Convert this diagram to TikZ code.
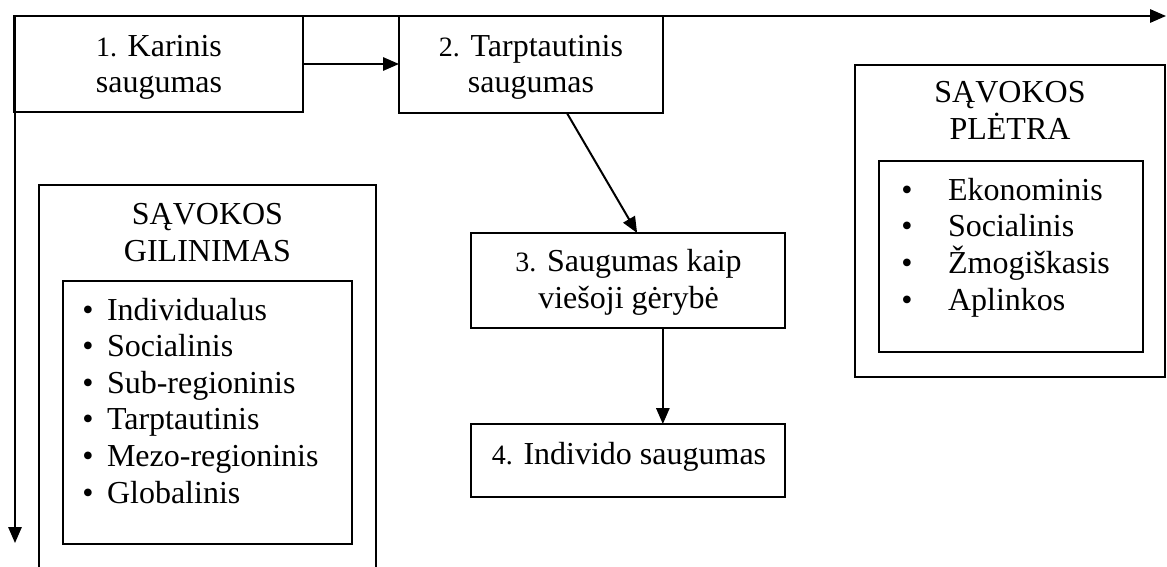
\documentclass[tikz,border=0pt]{standalone}
\usepackage{fontspec}
\setmainfont{Liberation Serif}
\usetikzlibrary{arrows.meta,calc}
\newcommand\numtxt[1]{{\fontsize{21}{27.5}\selectfont #1}}
\newcommand\bulL{\makebox[18.5pt][l]{•}}
\newcommand\bulR{\makebox[35pt][l]{•}}
\tikzset{
  txt/.style={font=\fontsize{24}{27.45}\selectfont, inner sep=0pt, outer sep=0pt},
  mainbox/.style={draw, line width=1.5pt, inner sep=0pt, outer sep=0pt},
  framebox/.style={draw, line width=1.1pt, inner sep=0pt, outer sep=0pt},
  arr/.style={line width=1.5pt, -{Triangle[length=12pt,width=10pt]}}
}
\begin{document}
\begin{tikzpicture}[x=0.75pt,y=-0.75pt]
\useasboundingbox (0,0) rectangle (1167,567);
\clip (0,0) rectangle (1167,567);
% main boxes
\node[mainbox, minimum width=216.75pt, minimum height=72pt] (b1) at (158.5,64) {};
\node[mainbox, minimum width=198pt, minimum height=72.75pt] (b2) at (531,64.5) {};
\node[mainbox, minimum width=235.5pt, minimum height=71.25pt] (b3) at (628,280.5) {};
\node[mainbox, minimum width=235.5pt, minimum height=54.75pt] (b4) at (628,460.5) {};
\node[txt, anchor=base, align=center] (t1) at (159,93) {\numtxt{1.} Karinis\\saugumas};
\node[txt, anchor=base, align=center] (t2) at (531,93) {\numtxt{2.} Tarptautinis\\saugumas};
\node[txt, anchor=base, align=center] (t3) at (628.5,308) {\numtxt{3.} Saugumas kaip\\viešoji gėrybė};
\node[txt, anchor=base, align=center] (t4) at (629,464) {\numtxt{4.} Individo saugumas};
% left frame
\node[framebox, minimum width=252.75pt, minimum height=311.25pt] (gil) at (207.5,392.5) {};
\node[framebox, minimum width=216.75pt, minimum height=197.25pt] (gilin) at (207.5,412.5) {};
\node[txt, anchor=base, align=center] (giltitle) at (207.5,261) {SĄVOKOS\\GILINIMAS};
\node[txt, anchor=base west, align=left] (gillist) at (82.4,503) {\bulL Individualus\\\bulL Socialinis\\\bulL Sub-regioninis\\\bulL Tarptautinis\\\bulL Mezo-regioninis\\\bulL Globalinis};
% right frame
\node[framebox, minimum width=232.5pt, minimum height=234pt] (ple) at (1010,221) {};
\node[framebox, minimum width=198pt, minimum height=143.25pt] (plein) at (1011,256.5) {};
\node[txt, anchor=base, align=center] (pletitle) at (1010,139) {SĄVOKOS\\PLĖTRA};
\node[txt, anchor=base west, align=left] (plelist) at (901.4,310) {\bulR Ekonominis\\\bulR Socialinis\\\bulR Žmogiškasis\\\bulR Aplinkos};
% connectors
\coordinate (topend) at (1166,16);
\coordinate (leftend) at (15,543);
\draw[arr] (b1.north west) -- (topend);
\draw[arr] ([xshift=0.75pt]b1.north west) -- ([xshift=0.75pt]b1.north west |- leftend);
\draw[arr] (b1.east) -- (b1.east -| b2.west);
\draw[arr] ($(b2.south west)!0.636!(b2.south east)$) -- ($(b3.north west)!0.529!(b3.north east)$);
\draw[arr] ($(b3.south west)!0.611!(b3.south east)$) coordinate (s3) -- (s3 |- b4.north);
\end{tikzpicture}
\end{document}
